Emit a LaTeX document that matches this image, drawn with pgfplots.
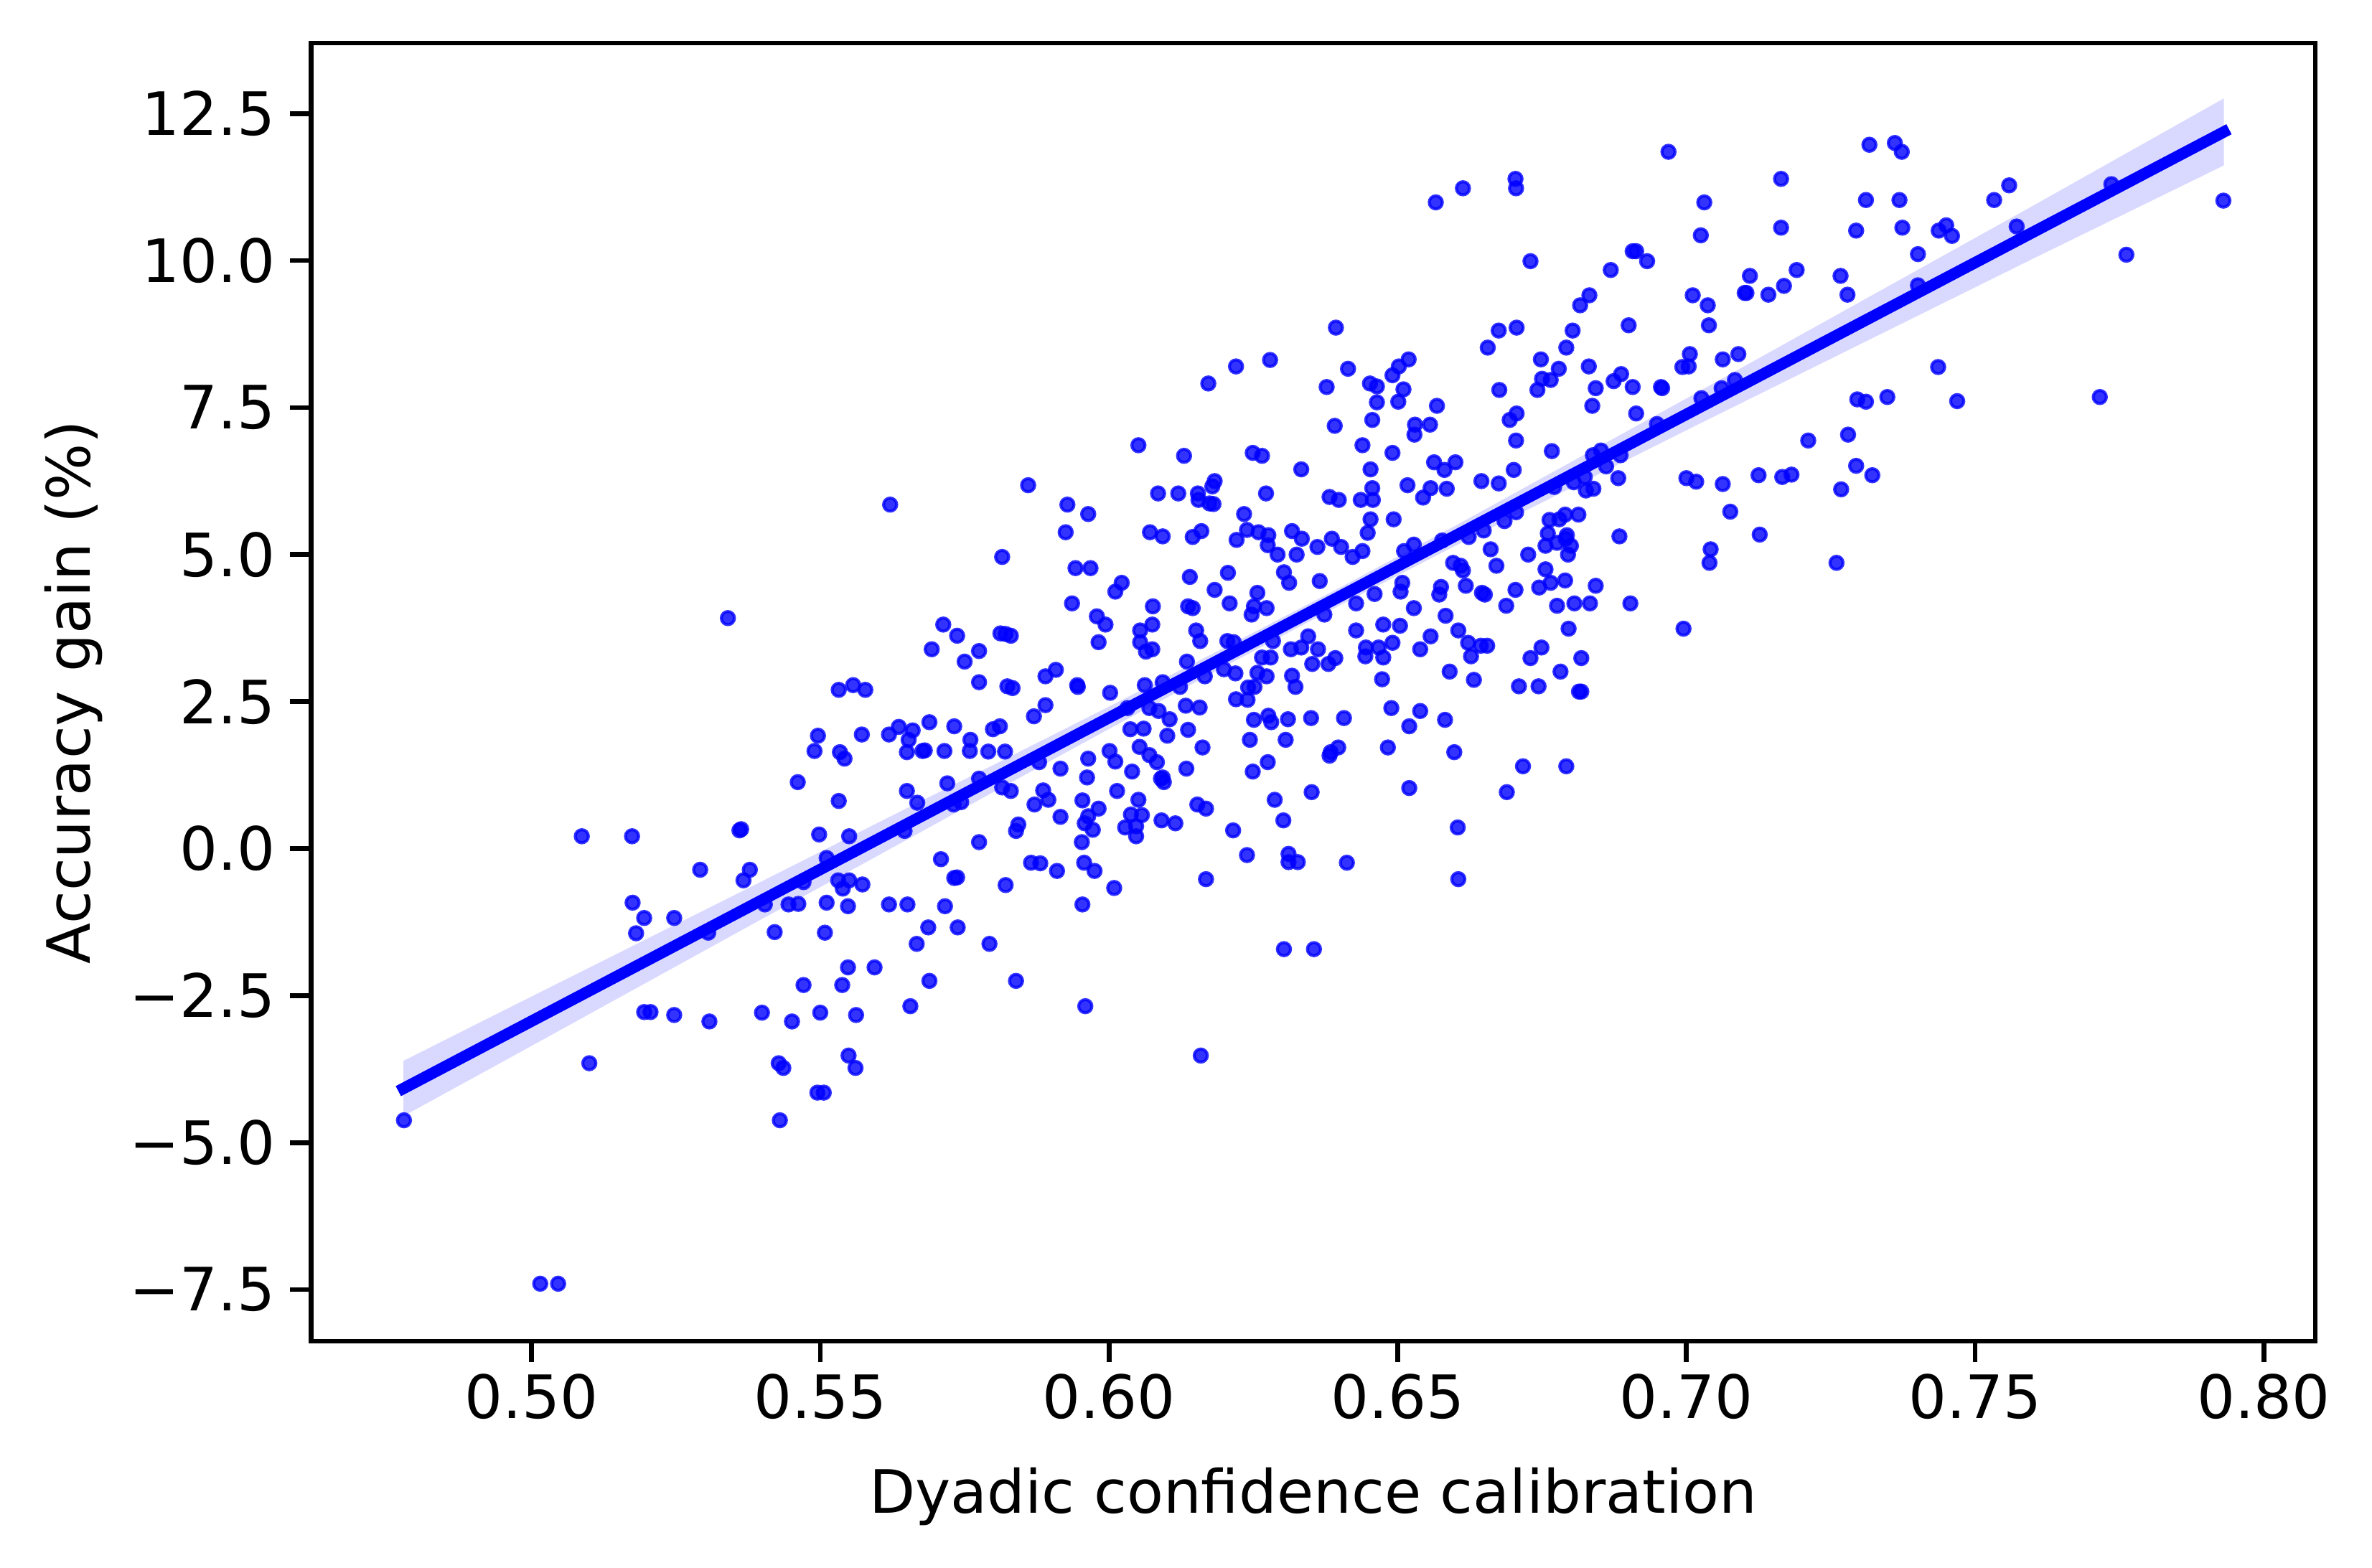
\documentclass[border=0pt]{standalone}
\usepackage{fontspec}
\setmainfont{DejaVu Sans}
\usepackage{pgfplots}
\pgfplotsset{compat=1.18}
\usepackage{pgfplotstable}
\pgfplotstableread{
x y
0.5340 3.92
0.5532 2.70
0.5557 2.78
0.5578 2.70
0.5496 1.92
0.5572 1.94
0.5619 1.94
0.5490 1.66
0.5534 1.64
0.5542 1.53
0.5461 1.13
0.5532 0.81
0.5087 0.21
0.5174 0.21
0.5360 0.31
0.5363 0.33
0.5498 0.24
0.5550 0.21
0.5292 -0.36
0.5378 -0.36
0.5367 -0.54
0.5471 -0.57
0.5511 -0.16
0.5531 -0.54
0.5550 -0.54
0.5539 -0.68
0.5573 -0.61
0.5175 -0.92
0.5195 -1.18
0.5247 -1.18
0.5181 -1.44
0.5306 -1.43
0.5404 -0.95
0.5445 -0.95
0.5462 -0.94
0.5511 -0.92
0.5548 -0.98
0.5619 -0.95
0.5421 -1.42
0.5508 -1.43
0.5548 -2.02
0.5594 -2.02
0.5471 -2.32
0.5538 -2.32
0.5195 -2.78
0.5206 -2.78
0.5247 -2.83
0.5308 -2.94
0.5399 -2.79
0.5451 -2.94
0.5500 -2.79
0.5562 -2.83
0.5100 -3.65
0.5428 -3.65
0.5436 -3.73
0.5549 -3.52
0.5561 -3.73
0.5495 -4.15
0.5506 -4.15
0.5430 -4.62
0.4779 -4.62
0.5015 -7.40
0.5046 -7.40
0.5713 3.81
0.5737 3.62
0.5693 3.39
0.5750 3.18
0.5775 3.36
0.5812 3.66
0.5821 3.65
0.5830 3.62
0.5775 2.83
0.5824 2.76
0.5833 2.73
0.5890 2.93
0.5908 3.04
0.5945 2.78
0.5946 2.75
0.5982 3.51
0.5994 3.81
0.6002 2.65
0.6054 3.71
0.6054 3.51
0.6064 3.35
0.6075 3.39
0.6075 3.81
0.6062 2.78
0.6093 2.83
0.6123 2.75
0.6135 3.18
0.6151 3.71
0.6158 3.53
0.6205 3.53
0.6216 3.51
0.6166 2.93
0.6199 3.05
0.6219 2.98
0.6265 3.25
0.6280 3.25
0.6284 3.53
0.6315 3.39
0.6333 3.42
0.6345 3.61
0.6362 3.39
0.6257 2.99
0.6273 2.93
0.6317 2.94
0.6323 2.75
0.6352 3.14
0.6380 3.14
0.6392 3.24
0.6428 3.71
0.6445 3.42
0.6444 3.27
0.6467 3.42
0.6475 3.25
0.6475 3.81
0.6473 2.88
0.6241 2.74
0.6252 2.75
0.6220 2.54
0.6240 2.53
0.5890 2.44
0.5870 2.25
0.6032 2.39
0.6070 2.39
0.6086 2.34
0.6105 2.20
0.6133 2.43
0.6157 2.40
0.6251 2.19
0.6276 2.26
0.6281 2.15
0.6310 2.20
0.6350 2.22
0.6407 2.22
0.6489 2.39
0.5636 2.07
0.5660 2.01
0.5653 1.85
0.5650 1.64
0.5689 2.15
0.5732 2.08
0.5799 2.03
0.5811 2.08
0.5760 1.85
0.5759 1.66
0.5677 1.66
0.5681 1.67
0.5715 1.66
0.5791 1.65
0.5820 1.65
0.6037 2.03
0.6060 2.04
0.6101 1.92
0.6137 2.02
0.6244 1.85
0.6306 1.85
0.6162 1.72
0.6053 1.73
0.6070 1.59
0.6083 1.47
0.6001 1.66
0.6011 1.48
0.5964 1.53
0.5879 1.47
0.5916 1.36
0.5962 1.21
0.6040 1.31
0.6090 1.19
0.6093 1.21
0.6095 1.13
0.6134 1.36
0.6249 1.31
0.6275 1.47
0.6382 1.58
0.6397 1.72
0.6384 1.64
0.6483 1.72
0.5650 0.98
0.5720 1.11
0.5775 1.19
0.5815 1.04
0.5830 0.98
0.5668 0.78
0.5731 0.75
0.5744 0.79
0.5871 0.75
0.5886 0.99
0.5895 0.83
0.5954 0.82
0.5982 0.68
0.6014 0.98
0.6051 0.83
0.5916 0.54
0.5964 0.55
0.5958 0.43
0.5972 0.32
0.6038 0.58
0.6057 0.57
0.6028 0.36
0.6047 0.38
0.6047 0.21
0.6091 0.48
0.6115 0.43
0.6153 0.75
0.6168 0.68
0.6287 0.83
0.6351 0.96
0.6302 0.48
0.6215 0.31
0.5646 0.30
0.5843 0.41
0.5839 0.30
0.5775 0.11
0.5953 0.11
0.5709 -0.18
0.5865 -0.24
0.5881 -0.25
0.5910 -0.38
0.5957 -0.24
0.5975 -0.38
0.5732 -0.50
0.5737 -0.49
0.5821 -0.62
0.6009 -0.67
0.6168 -0.52
0.6239 -0.11
0.6311 -0.09
0.6311 -0.23
0.6327 -0.23
0.6412 -0.24
0.5651 -0.95
0.5716 -0.98
0.5954 -0.95
0.5687 -1.34
0.5738 -1.34
0.5667 -1.62
0.5793 -1.62
0.5689 -2.25
0.5839 -2.25
0.5656 -2.68
0.5959 -2.68
0.6303 -1.71
0.6355 -1.71
0.6159 -3.52
0.6393 8.86
0.6279 8.31
0.6220 8.20
0.6172 7.91
0.6414 8.16
0.6377 7.85
0.6452 7.91
0.6464 7.86
0.6491 8.05
0.6464 7.59
0.6456 7.29
0.6391 7.19
0.6439 6.86
0.6491 6.73
0.6453 6.45
0.6333 6.45
0.6051 6.86
0.6130 6.68
0.6249 6.73
0.6265 6.68
0.5860 6.18
0.5621 5.85
0.5928 5.85
0.5964 5.69
0.5925 5.38
0.6085 6.04
0.6120 6.04
0.6154 6.04
0.6155 5.93
0.6183 6.25
0.6179 6.16
0.6174 5.87
0.6181 5.86
0.6272 6.04
0.6234 5.69
0.6382 5.98
0.6398 5.93
0.6436 5.93
0.6457 5.93
0.6456 6.13
0.6453 5.60
0.6493 5.60
0.6448 5.37
0.6071 5.38
0.6093 5.31
0.6145 5.30
0.6160 5.40
0.6221 5.25
0.6239 5.42
0.6259 5.38
0.6276 5.33
0.6275 5.16
0.6292 5.00
0.6317 5.40
0.6334 5.27
0.6325 5.00
0.6361 5.13
0.6386 5.27
0.6402 5.13
0.6422 4.96
0.6439 5.06
0.5815 4.96
0.5942 4.77
0.5968 4.77
0.6022 4.52
0.6011 4.37
0.6140 4.62
0.6206 4.69
0.6303 4.70
0.6312 4.52
0.6365 4.55
0.6183 4.40
0.6257 4.35
0.6209 4.17
0.6460 4.33
0.6428 4.17
0.5936 4.17
0.6076 4.12
0.6137 4.12
0.6145 4.09
0.6251 4.12
0.6247 3.98
0.6273 4.09
0.6373 3.98
0.5979 3.95
0.6969 11.85
0.7317 11.97
0.6566 10.99
0.6613 11.23
0.6704 11.39
0.6705 11.23
0.7164 11.39
0.7031 10.99
0.7311 11.03
0.7164 10.56
0.7025 10.43
0.7294 10.51
0.6730 9.99
0.6907 10.16
0.6913 10.16
0.6932 9.99
0.6869 9.84
0.7110 9.74
0.7191 9.84
0.7267 9.74
0.7101 9.45
0.7104 9.45
0.7142 9.42
0.7169 9.57
0.7279 9.42
0.7011 9.41
0.7037 9.24
0.6832 9.41
0.6816 9.24
0.6900 8.90
0.7039 8.90
0.6803 8.81
0.6675 8.81
0.6706 8.86
0.6656 8.52
0.6792 8.52
0.7006 8.41
0.7063 8.32
0.7090 8.41
0.6993 8.19
0.7004 8.20
0.6519 8.32
0.6502 8.20
0.6748 8.32
0.6779 8.16
0.6831 8.20
0.6887 8.07
0.6874 7.95
0.6750 7.99
0.6765 7.97
0.6742 7.80
0.6676 7.80
0.6843 7.83
0.6907 7.85
0.6956 7.85
0.6958 7.83
0.6510 7.81
0.6501 7.60
0.6568 7.53
0.6837 7.53
0.6913 7.40
0.6706 7.40
0.6694 7.29
0.6530 7.21
0.6556 7.21
0.6529 7.04
0.6705 6.94
0.6767 6.76
0.7211 6.94
0.7280 7.04
0.7296 7.64
0.7311 7.60
0.7348 7.68
0.6563 6.57
0.6600 6.57
0.6581 6.44
0.6701 6.44
0.6517 6.18
0.6557 6.13
0.6585 6.12
0.6544 5.97
0.6645 6.25
0.6675 6.21
0.7294 6.51
0.7322 6.35
0.7268 6.11
0.7000 6.30
0.7017 6.24
0.7063 6.20
0.7125 6.35
0.7166 6.32
0.7182 6.36
0.6882 6.30
0.6826 6.09
0.6839 6.12
0.6805 6.23
0.7076 5.73
0.7127 5.34
0.7042 5.09
0.7040 4.86
0.7260 4.86
0.6884 5.31
0.6813 5.68
0.6790 5.68
0.6763 5.59
0.6780 5.60
0.6760 5.36
0.6793 5.33
0.6791 5.27
0.6756 5.15
0.6776 5.20
0.6800 5.15
0.6795 5.00
0.6726 5.00
0.6661 5.09
0.6671 4.81
0.6596 4.86
0.6609 4.81
0.6613 4.73
0.6756 4.75
0.6508 4.52
0.6505 4.37
0.6575 4.45
0.6572 4.32
0.6618 4.47
0.6646 4.35
0.6651 4.32
0.6704 4.40
0.6745 4.44
0.6765 4.52
0.6790 4.56
0.6843 4.47
0.6528 4.09
0.6583 3.96
0.6688 4.13
0.6776 4.13
0.6806 4.17
0.6833 4.17
0.6903 4.17
0.6511 5.06
0.6528 5.17
0.6577 5.24
0.6623 5.30
0.6649 5.41
0.6685 5.57
0.6705 5.72
0.6771 6.15
0.6824 6.32
0.6838 6.69
0.6852 6.77
0.6861 6.50
0.6886 6.69
0.6949 7.22
0.7026 7.66
0.7061 7.83
0.7084 7.97
0.6504 3.79
0.6539 3.39
0.6557 3.61
0.6605 3.71
0.6622 3.50
0.6644 3.45
0.6655 3.45
0.6627 3.27
0.6590 3.01
0.6632 2.87
0.6796 3.74
0.6749 3.42
0.6730 3.24
0.6782 3.01
0.6818 3.24
0.6710 2.76
0.6744 2.76
0.6814 2.67
0.6818 2.67
0.6995 3.74
0.6539 2.34
0.6520 2.08
0.6582 2.19
0.6598 1.64
0.6717 1.40
0.6792 1.40
0.6520 1.03
0.6689 0.96
0.6604 0.36
0.6605 -0.52
0.6491 3.50
0.7361 12.00
0.7373 11.85
0.7369 11.03
0.7374 10.56
0.7437 10.51
0.7450 10.60
0.7460 10.42
0.7401 10.11
0.7401 9.58
0.7533 11.03
0.7559 11.28
0.7572 10.58
0.7736 11.30
0.7762 10.10
0.7930 11.02
0.7436 8.19
0.7469 7.61
0.7716 7.68
}\pts
\begin{document}
\begin{tikzpicture}
\useasboundingbox (0,0) rectangle (396.6pt,262.2pt);
\begin{axis}[
  at={(52.0pt,37.9pt)}, anchor=south west,
  width=335.1pt, height=217.1pt, scale only axis,
  xmin=0.4618, xmax=0.8089, ymin=-8.38, ymax=13.70,
  axis line style={line width=0.8pt},
  every tick/.style={black, line width=0.8pt},
  major tick length=3.5pt,
  tick align=outside,
  xtick pos=left, ytick pos=left,
  xtick={0.5,0.55,0.6,0.65,0.7,0.75,0.8},
  xticklabels={0.50,0.55,0.60,0.65,0.70,0.75,0.80},
  ytick={-7.5,-5,-2.5,0,2.5,5,7.5,10,12.5},
  yticklabels={−7.5,−5.0,−2.5,0.0,2.5,5.0,7.5,10.0,12.5},
  xticklabel style={anchor=north, inner sep=0pt, yshift=-1.7pt, font=\fontsize{10}{12}\selectfont},
  yticklabel style={anchor=east, inner sep=0pt, xshift=-2.3pt, font=\fontsize{10}{12}\selectfont},
  xlabel={Dyadic confidence calibration},
  ylabel={Accuracy gain (\%)},
  xlabel style={at={(axis description cs:0.5,-0.1322)}, anchor=base, inner sep=0pt, font=\fontsize{10}{12}\selectfont},
  ylabel style={at={(axis description cs:-0.1104,0.5)}, anchor=base, inner sep=0pt, font=\fontsize{10}{12}\selectfont},
  clip=false,
]
\addplot[only marks, mark=*, mark size=1.1pt,
  mark options={fill=blue, draw=blue, fill opacity=0.8, draw opacity=0.8, line width=0.5pt}]
  table[x=x, y=y] {\pts};
\addplot[draw=none, fill=blue, fill opacity=0.15] coordinates {
  (0.4778,-3.61) (0.50,-2.515) (0.52,-1.533) (0.54,-0.551) (0.56,0.441)
  (0.58,1.423) (0.60,2.415) (0.62,3.417) (0.64,4.439) (0.66,5.491)
  (0.68,6.573) (0.70,7.655) (0.72,8.747) (0.74,9.839) (0.76,10.931) (0.7931,12.759)
  (0.7931,11.619) (0.76,10.031) (0.74,9.059) (0.72,8.087) (0.70,7.115)
  (0.68,6.133) (0.66,5.151) (0.64,4.139) (0.62,3.097) (0.60,2.035)
  (0.58,0.963) (0.56,-0.119) (0.54,-1.191) (0.52,-2.273) (0.50,-3.355) (0.4778,-4.55)
} -- cycle;
\addplot[blue, line width=1.9pt, line cap=rect] coordinates {(0.4778,-4.080) (0.7931,12.189)};
\end{axis}
\end{tikzpicture}
\end{document}
